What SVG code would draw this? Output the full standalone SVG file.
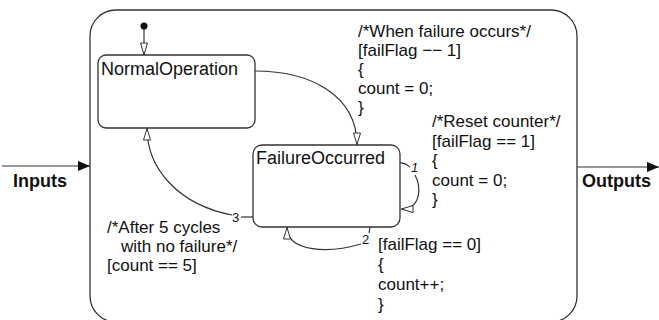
<svg xmlns="http://www.w3.org/2000/svg" width="659" height="320" viewBox="0 0 659 320">
  <defs>
    <style>
      .box { fill: #fff; stroke: #333; stroke-width: 1.3; }
      .edge { fill: none; stroke: #333; stroke-width: 1.2; }
      .t { font-family: "Liberation Sans", Arial, sans-serif; font-size: 17px; fill: #111; }
      .state { font-family: "Liberation Sans", Arial, sans-serif; font-size: 18px; fill: #111; }
      .port { font-family: "Liberation Sans", Arial, sans-serif; font-size: 18px; font-weight: bold; fill: #111; }
      .num { font-family: "Liberation Sans", Arial, sans-serif; font-size: 13px; fill: #111; }
    </style>
    <marker id="open" viewBox="0 0 12 8" refX="12" refY="4" markerWidth="12" markerHeight="8" markerUnits="userSpaceOnUse" orient="auto" overflow="visible">
      <path d="M0,0.5 L11.5,4 L0,7.5 Z" fill="#fff" stroke="#333" stroke-width="1"/>
    </marker>
    <marker id="solid" viewBox="0 0 12 10" refX="12" refY="5" markerWidth="12" markerHeight="10" markerUnits="userSpaceOnUse" orient="auto">
      <path d="M0,0 L12,5 L0,10 Z" fill="#111"/>
    </marker>
  </defs>
  <rect width="659" height="320" fill="#fff"/>

  <g id="chart">
    <rect class="box" x="90" y="10" width="487" height="312" rx="26" ry="26"/>
  </g>

  <g id="Inputs">
    <text class="port" x="13" y="187">Inputs</text>
  </g>
  <g id="Outputs">
    <text class="port" x="582" y="187">Outputs</text>
  </g>

  <g id="NormalOperation">
    <rect class="box" x="98" y="55" width="157" height="73" rx="8" ry="8"/>
    <text class="state" x="101" y="75">NormalOperation</text>
  </g>

  <g id="FailureOccurred">
    <rect class="box" x="253" y="145" width="147" height="82" rx="9" ry="9"/>
    <text class="state" x="256" y="164">FailureOccurred</text>
  </g>

  <g id="connectors">
    <line class="edge" x1="2" y1="166" x2="90" y2="166" marker-end="url(#solid)"/>
    <line class="edge" x1="577" y1="167" x2="659" y2="167" marker-end="url(#solid)"/>
    <circle cx="144" cy="26" r="3.5" fill="#111"/>
    <line class="edge" x1="144" y1="29" x2="144" y2="55" marker-end="url(#open)"/>
    <path class="edge" d="M255,71 C310,71 357,95 357,145" marker-end="url(#open)"/>
    <path class="edge" d="M400,163 C404,162 407,165 410,167"/>
    <path class="edge" d="M415,175 C421,186 422,209 401,209" marker-end="url(#open)"/>
    <path class="edge" d="M370,227 L369,233"/>
    <path class="edge" d="M361,244 C330,253 287,253 287,227" marker-end="url(#open)"/>
    <path class="edge" d="M253,217 L241,217"/>
    <path class="edge" d="M232,215 C180,205 147,170 147,128" marker-end="url(#open)"/>
  </g>

  <g id="labels">
    <text class="num" x="411" y="172" font-style="italic">1</text>
    <text class="num" x="362" y="244">2</text>
    <text class="num" x="232" y="222">3</text>

    <text class="t" x="358" y="37">/*When failure occurs*/
      <tspan x="358" y="56">[failFlag −− 1]</tspan>
      <tspan x="358" y="75">{</tspan>
      <tspan x="358" y="94">count = 0;</tspan>
      <tspan x="358" y="113">}</tspan>
    </text>

    <text class="t" x="432" y="127">/*Reset counter*/
      <tspan x="432" y="146.5">[failFlag == 1]</tspan>
      <tspan x="432" y="166">{</tspan>
      <tspan x="432" y="185.5">count = 0;</tspan>
      <tspan x="432" y="205">}</tspan>
    </text>

    <text class="t" x="378" y="250">[failFlag == 0]
      <tspan x="378" y="270">{</tspan>
      <tspan x="378" y="290">count++;</tspan>
      <tspan x="378" y="310">}</tspan>
    </text>

    <text class="t" x="107" y="233">/*After 5 cycles
      <tspan x="121" y="252">with no failure*/</tspan>
      <tspan x="107" y="271">[count == 5]</tspan>
    </text>
  </g>
</svg>
